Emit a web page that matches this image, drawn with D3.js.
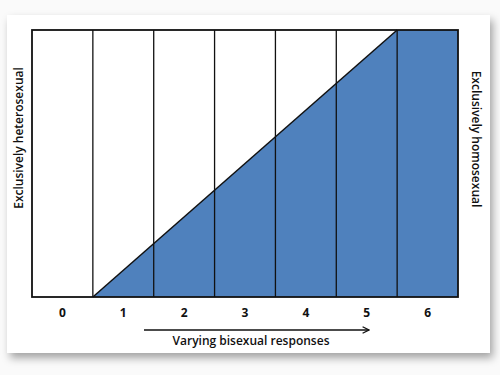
<!DOCTYPE html>
<html>
<head>
<meta charset="utf-8">
<script src="https://cdn.jsdelivr.net/npm/d3@7"></script>
<style>
  body { margin: 0; background: #fafafa; }
  svg { display: block; }
  text { font-family: "Open Sans", Lato, sans-serif; fill: #111; }
</style>
</head>
<body>
<div id="chart"></div>
<script>
// data
var ratings = [0, 1, 2, 3, 4, 5, 6];
var shareX = [-0.5, 0.5, 5.5, 6.5];   // rating position
var shareY = [0, 0, 1, 1];            // homosexual share
var leftLabel = 'Exclusively heterosexual';
var rightLabel = 'Exclusively homosexual';
var axisLabel = 'Varying bisexual responses';

var width = 500, height = 375;
var plot = {'left': 32, 'right': 458, 'top': 30, 'bottom': 297};

var svg = d3.select('#chart').append('svg')
    .attr('width', width)
    .attr('height', height);

var defs = svg.append('defs');
var shadow = defs.append('filter').attr('id', 'shadow')
    .attr('x', '-5%').attr('y', '-5%').attr('width', '115%').attr('height', '120%');
shadow.append('feDropShadow')
    .attr('dx', 3).attr('dy', 5).attr('stdDeviation', 4)
    .attr('flood-color', '#000').attr('flood-opacity', 0.35);
var arrow = defs.append('marker').attr('id', 'arrow')
    .attr('viewBox', '0 0 10 10').attr('refX', 9).attr('refY', 5)
    .attr('markerWidth', 8).attr('markerHeight', 8)
    .attr('markerUnits', 'userSpaceOnUse')
    .attr('orient', 'auto');
arrow.append('path').attr('d', 'M1,1 L9,5 L1,9')
    .attr('fill', 'none').attr('stroke', '#111').attr('stroke-width', 1.6);

// card
svg.append('rect')
    .attr('x', 7).attr('y', 15)
    .attr('width', 483).attr('height', 338)
    .attr('fill', '#fff')
    .attr('filter', 'url(#shadow)');

var x = d3.scaleLinear().domain([-0.5, 6.5]).range([plot.left, plot.right]);
var y = d3.scaleLinear().domain([0, 1]).range([plot.bottom, plot.top]);

var pts = shareX.map(function(v, i){ return [v, shareY[i]]; });

// blue area
svg.append('path')
    .datum(pts)
    .attr('d', d3.area()
        .x(function(d){ return x(d[0]); })
        .y0(y(0))
        .y1(function(d){ return y(d[1]); }))
    .attr('fill', '#4f81bd');

// column borders
svg.selectAll('.col')
    .data(ratings.slice(1))
    .enter().append('line')
    .attr('class', 'col')
    .attr('x1', function(d){ return x(d - 0.5); })
    .attr('x2', function(d){ return x(d - 0.5); })
    .attr('y1', y(0)).attr('y2', y(1))
    .attr('stroke', '#111').attr('stroke-width', 1.3);

// diagonal
svg.append('line')
    .attr('x1', x(shareX[1])).attr('y1', y(shareY[1]))
    .attr('x2', x(shareX[2])).attr('y2', y(shareY[2]))
    .attr('stroke', '#111').attr('stroke-width', 1.5);

// frame
svg.append('rect')
    .attr('x', plot.left).attr('y', plot.top)
    .attr('width', plot.right - plot.left).attr('height', plot.bottom - plot.top)
    .attr('fill', 'none').attr('stroke', '#111').attr('stroke-width', 1.8);

// tick labels
svg.selectAll('.tick-label')
    .data(ratings)
    .enter().append('text')
    .attr('class', 'tick-label')
    .attr('x', function(d){ return x(d); })
    .attr('y', 317)
    .attr('text-anchor', 'middle')
    .style('font-size', '12px')
    .style('font-weight', 'bold')
    .text(function(d){ return d; });

// arrow
svg.append('line')
    .attr('x1', 144).attr('y1', 330)
    .attr('x2', 369).attr('y2', 330)
    .attr('stroke', '#111').attr('stroke-width', 1.4)
    .attr('marker-end', 'url(#arrow)');

svg.append('text')
    .attr('x', 251).attr('y', 345)
    .attr('text-anchor', 'middle')
    .style('font-size', '12px')
    .style('font-weight', 600)
    .text(axisLabel);

// side labels
svg.append('text')
    .attr('transform', 'translate(23,138) rotate(-90)')
    .attr('text-anchor', 'middle')
    .style('font-size', '12px')
    .style('font-weight', 600)
    .text(leftLabel);

svg.append('text')
    .attr('transform', 'translate(472,139) rotate(90)')
    .attr('text-anchor', 'middle')
    .style('font-size', '12px')
    .style('font-weight', 600)
    .text(rightLabel);
</script>
</body>
</html>
